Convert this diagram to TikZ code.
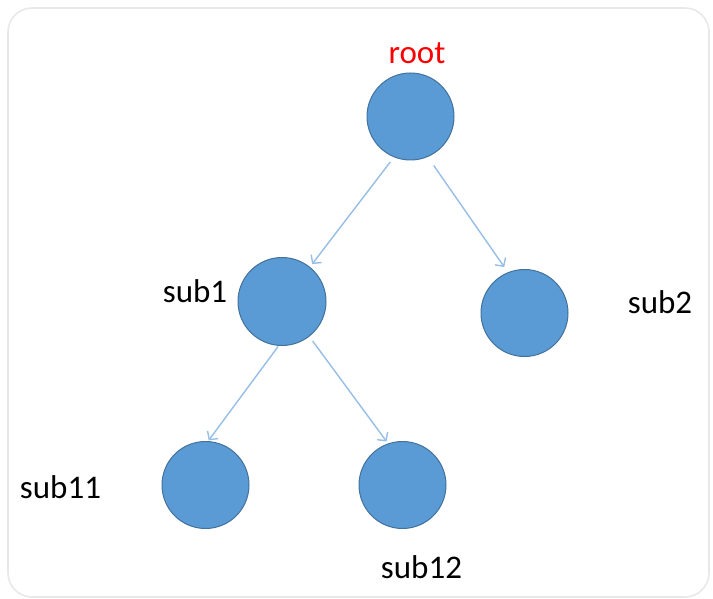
\documentclass[tikz,border=0pt]{standalone}
\usepackage{fontspec}
\setmainfont{Carlito}
\usetikzlibrary{arrows.meta}
\definecolor{nodefill}{HTML}{5B9BD5}
\definecolor{nodeline}{HTML}{41719C}
\definecolor{arrowc}{RGB}{150,190,230}
\definecolor{framec}{RGB}{232,232,232}
\tikzset{
  tnode/.style={circle, fill=nodefill, draw=nodeline, line width=1pt, inner sep=0pt, outer sep=0pt, minimum size=87pt},
  lab/.style={anchor=base, font=\fontsize{33}{36}\selectfont, inner sep=0pt},
  conn/.style={draw=arrowc, line width=1.4pt, -{Straight Barb[length=6pt,width=13pt,line width=1.4pt]}}
}
\begin{document}
\begin{tikzpicture}[x=1pt,y=-1pt]
\useasboundingbox (0,0) rectangle (713,599);
\draw[framec, line width=1.6pt, rounded corners=24pt] (8,8) rectangle (709,597);
\node[tnode] (root) at (410.5,116.5) {};
\node[tnode, minimum size=88pt] (sub1) at (282,301.5) {};
\node[tnode] (sub2) at (524.5,313) {};
\node[tnode] (sub11) at (205.5,485) {};
\node[tnode] (sub12) at (402.5,485) {};
\node[lab, text=red] (troot) at (417,64) {root};
\node[lab] (tsub1) at (195,302) {sub1};
\node[lab] (tsub2) at (660,313) {sub2};
\node[lab] (tsub11) at (60.5,498) {sub11};
\node[lab] (tsub12) at (421.5,578) {sub12};
\draw[conn, shorten <=6.5pt, shorten >=4pt] (root.248.5) -- (sub1.51.3);
\draw[conn, shorten <=11pt, shorten >=7pt] (root.293.5) -- (sub2.112.5);
\draw[conn, shorten <=1.5pt, shorten >=1.5pt] (sub1.266.6) -- (sub11.87.7);
\draw[conn, shorten <=6pt, shorten >=3pt] (sub1.308.6) -- (sub12.109.7);
\end{tikzpicture}
\end{document}
